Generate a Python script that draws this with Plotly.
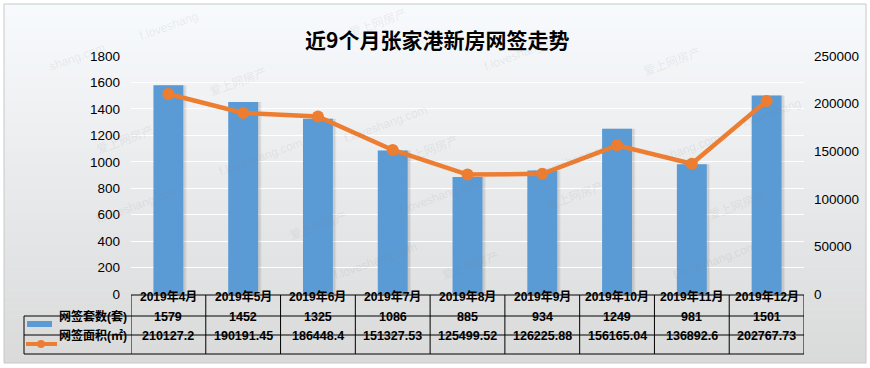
import plotly.graph_objects as go

months = ["2019年4月", "2019年5月", "2019年6月", "2019年7月", "2019年8月",
          "2019年9月", "2019年10月", "2019年11月", "2019年12月"]
units = [1579, 1452, 1325, 1086, 885, 934, 1249, 981, 1501]
area = [210127.2, 190191.45, 186448.4, 151327.53, 125499.52,
        126225.88, 156165.04, 136892.6, 202767.73]
area_labels = ["210127.2", "190191.45", "186448.4", "151327.53", "125499.52",
               "126225.88", "156165.04", "136892.6", "202767.73"]
name_units = "网签套数(套)"
name_area = "网签面积(㎡)"
title = "近9个月张家港新房网签走势"

W, H = 870, 368
L, R, T, B = 131, 804, 56, 294   # plot area in pixels
PW, PH = R - L, B - T


def px(x):
    return (x - L) / PW


def py(y):
    return (B - y) / PH


BLUE = "#5b9bd5"
ORANGE = "#ed7d31"
FONT = "Liberation Sans, Noto Sans CJK SC, sans-serif"

fig = go.Figure()
idx = list(range(len(months)))

# soft bar shadow
for k, a in [(0.045, 0.05), (0.03, 0.07)]:
    fig.add_trace(go.Bar(x=idx, y=units, width=0.4, offset=-0.2 + k,
                         marker=dict(color="rgba(0,0,0,%g)" % a, line_width=0),
                         hoverinfo="skip", showlegend=False))
fig.add_trace(go.Bar(x=idx, y=units, width=0.4, offset=-0.2, name=name_units,
                     marker=dict(color=BLUE, line_width=0), showlegend=False))
fig.add_trace(go.Scatter(x=idx, y=area, yaxis="y2", mode="lines+markers",
                         name=name_area, showlegend=False,
                         line=dict(color=ORANGE, width=4.5),
                         marker=dict(color=ORANGE, size=12)))

shapes = []
# outer background gradient
n = 60
top_c = (247, 250, 253)
bot_c = (218, 218, 218)
y0p, y1p = 4, 363
for i in range(n):
    t = i / (n - 1)
    c = tuple(round(top_c[k] + (bot_c[k] - top_c[k]) * t) for k in range(3))
    ya = y0p + (y1p - y0p) * i / n
    yb = y0p + (y1p - y0p) * (i + 1) / n + 0.6
    shapes.append(dict(type="rect", xref="paper", yref="paper", layer="below",
                       x0=px(4), x1=px(866), y0=py(ya), y1=py(min(yb, y1p)),
                       fillcolor="rgb(%d,%d,%d)" % c, line_width=0))
shapes.append(dict(type="rect", xref="paper", yref="paper", layer="below",
                   x0=px(4), x1=px(866), y0=py(4), y1=py(363),
                   fillcolor="rgba(0,0,0,0)", line=dict(color="#c8c8c8", width=1)))

# table lines
rows = [295, 316, 335, 354]
line = dict(color="black", width=1)
shapes.append(dict(type="line", xref="paper", yref="paper",
                   x0=px(L), x1=px(R), y0=py(rows[0]), y1=py(rows[0]), line=line))
for r in rows[1:]:
    shapes.append(dict(type="line", xref="paper", yref="paper",
                       x0=px(24), x1=px(R), y0=py(r), y1=py(r), line=line))
shapes.append(dict(type="line", xref="paper", yref="paper",
                   x0=px(24), x1=px(24), y0=py(rows[1]), y1=py(rows[3]), line=line))
for i in range(len(months) + 1):
    shapes.append(dict(type="line", xref="x", yref="paper",
                       x0=i - 0.5, x1=i - 0.5, y0=py(rows[0]), y1=py(rows[3]),
                       line=line))
# legend symbols in the table
shapes.append(dict(type="rect", xref="paper", yref="paper",
                   x0=px(27), x1=px(52), y0=py(321), y1=py(327),
                   fillcolor=BLUE, line_width=0))
shapes.append(dict(type="line", xref="paper", yref="paper",
                   x0=px(26), x1=px(57), y0=py(344), y1=py(344),
                   line=dict(color=ORANGE, width=4)))
shapes.append(dict(type="circle", xref="paper", yref="paper",
                   x0=px(37), x1=px(45), y0=py(340), y1=py(348),
                   fillcolor=ORANGE, line_width=0))

ann = []
ann.append(dict(text="<b>" + title + "</b>", xref="paper", yref="paper",
                x=px(437), y=py(22), showarrow=False,
                font=dict(family="Noto Sans CJK SC", size=21, color="black")))


def mid(a, b):
    return py((a + b) / 2)


for i, m in enumerate(months):
    ann.append(dict(text="<b>%s</b>" % m, x=i, xref="x", yref="paper",
                    y=mid(rows[0], rows[1]), showarrow=False,
                    font=dict(family=FONT, size=12, color="black")))
    ann.append(dict(text="<b>%d</b>" % units[i], x=i, xref="x", yref="paper",
                    y=mid(rows[1], rows[2]), showarrow=False,
                    font=dict(family=FONT, size=12.5, color="black")))
    ann.append(dict(text="<b>%s</b>" % area_labels[i], x=i, xref="x", yref="paper",
                    y=mid(rows[2], rows[3]), showarrow=False,
                    font=dict(family=FONT, size=12.5, color="black")))
ann.append(dict(text="<b>" + name_units + "</b>", xref="paper", yref="paper",
                x=px(129), xanchor="right", y=mid(rows[1], rows[2]), showarrow=False,
                font=dict(family=FONT, size=12, color="black")))
ann.append(dict(text="<b>" + name_area + "</b>", xref="paper", yref="paper",
                x=px(129), xanchor="right", y=mid(rows[2], rows[3]), showarrow=False,
                font=dict(family=FONT, size=12, color="black")))

# faint watermarks
wm = [("shang.com", 45, 38), ("f.loveshang", 135, 6), ("爱上网房产", 345, 3),
      ("爱上网房产", 205, 62), ("f.loveshang.com", 340, 100), ("f.loveshang.com", 215, 157),
      ("爱上网房产", 92, 120), ("f.loveshang.com", 92, 205), ("爱上网房产", 285, 245),
      ("f.loveshang.com", 525, 28), ("爱上网房产", 705, 42), ("f.loveshang", 805, 93),
      ("shang.com", 725, 128), ("爱上网房产", 470, 285), ("f.loveshang.com", 760, 285),
      ("f.loveshang.com", 620, 160), ("爱上网房产", 575, 215), ("爱上网房产", 430, 130),
      ("f.loveshang.com", 440, 220), ("爱上网房产", 770, 205), ("f.loveshang.com", 330, 285)]
for t, x, y in wm:
    ann.append(dict(text=t, xref="paper", yref="paper", x=px(x), y=py(y),
                    showarrow=False, textangle=-20,
                    font=dict(family=FONT, size=12, color="rgba(120,120,120,0.12)")))

fig.update_layout(
    width=W, height=H,
    margin=dict(l=L, r=W - R, t=T, b=H - B, pad=0),
    paper_bgcolor="white", plot_bgcolor="rgba(0,0,0,0)",
    barmode="overlay", showlegend=False,
    shapes=shapes, annotations=ann,
    xaxis=dict(range=[-0.5, 8.5], showticklabels=False, showgrid=False,
               zeroline=False, showline=False, fixedrange=True),
    yaxis=dict(range=[0, 1800], dtick=200, showgrid=True, gridcolor="white",
               gridwidth=1, zeroline=False, showline=False, ticks="",
               ticklabelstandoff=10,
               tickfont=dict(family=FONT, size=13.5, color="black")),
    yaxis2=dict(range=[0, 250000], dtick=50000, overlaying="y", side="right",
                showgrid=False, zeroline=False, showline=False, ticks="",
                ticklabelstandoff=9, tickformat="d",
                tickfont=dict(family=FONT, size=13.5, color="black")),
)

fig.write_html("out.html", config={"displayModeBar": False},
               post_script="document.body.style.margin='0px';")
